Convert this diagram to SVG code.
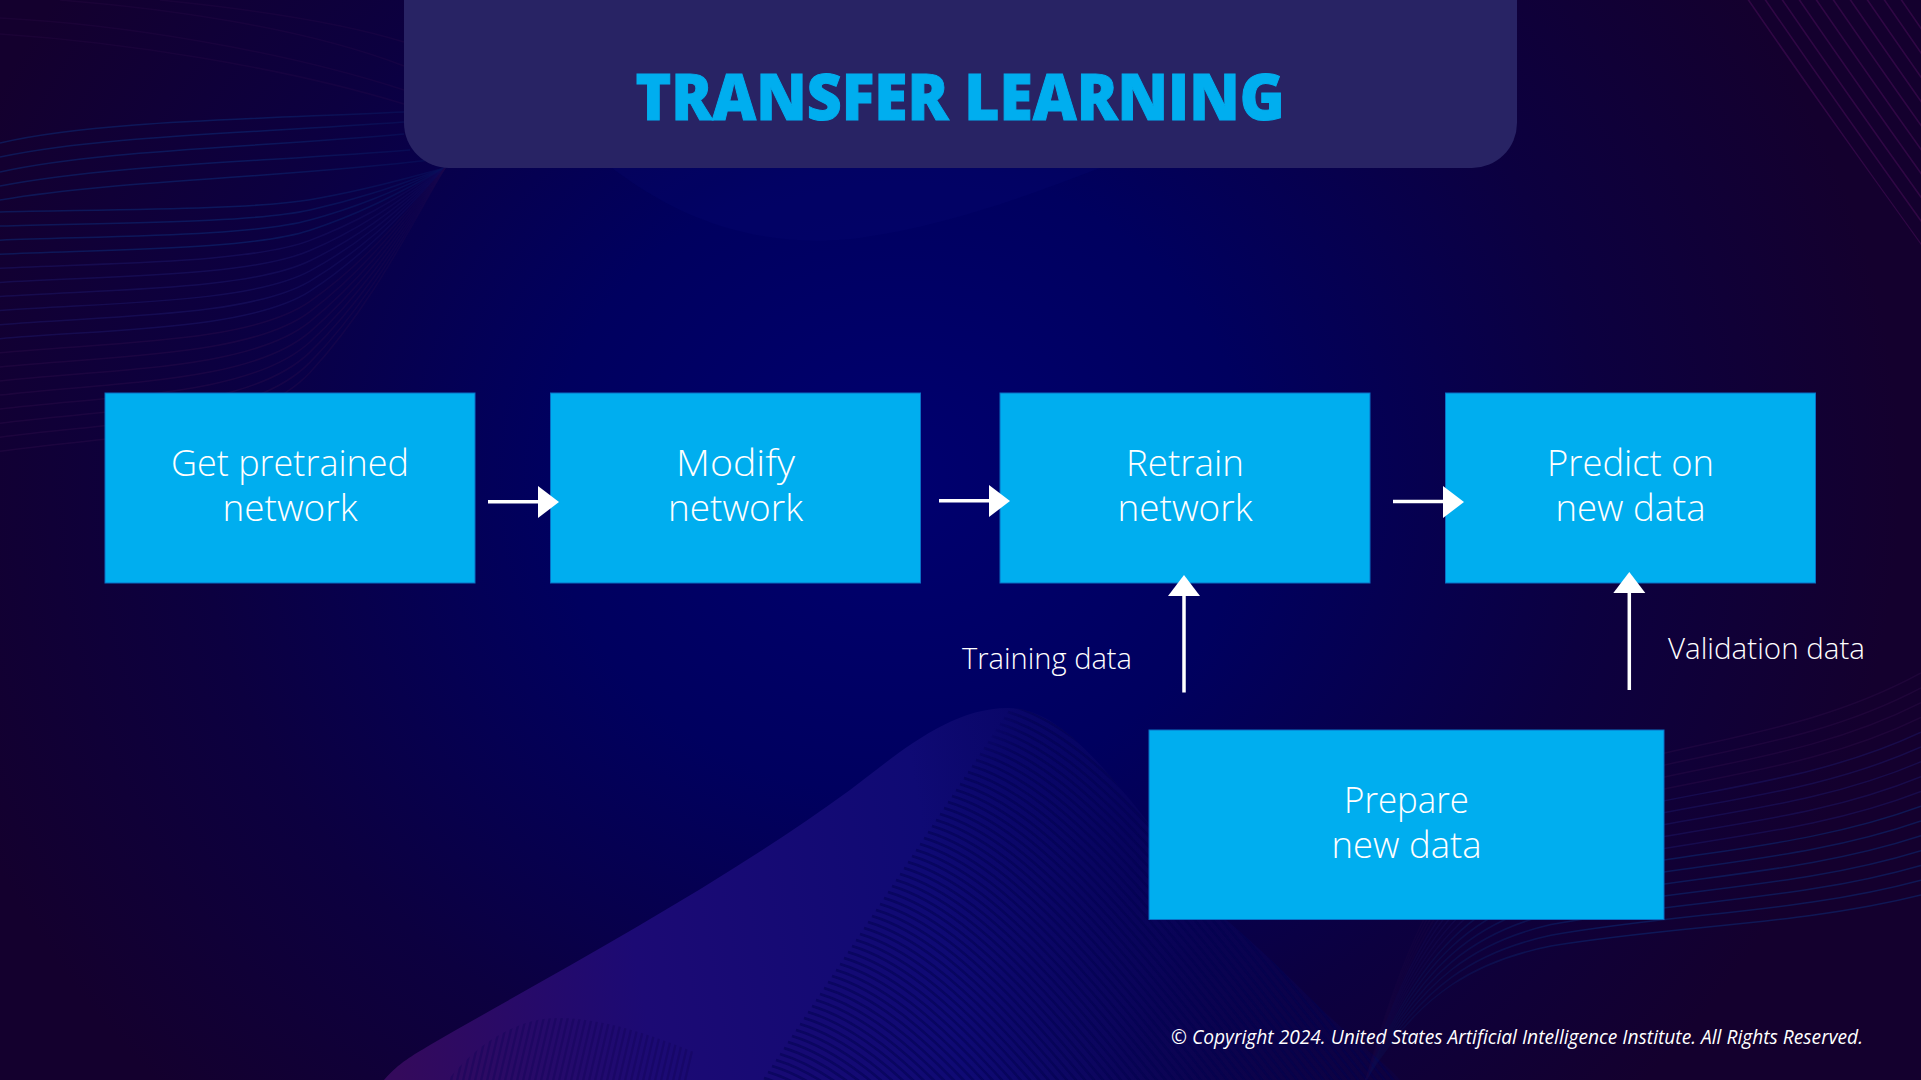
<svg xmlns="http://www.w3.org/2000/svg" width="1921" height="1080" viewBox="0 0 1921 1080">
<style>
.box{fill:#00aeef;stroke:#0a6fc4;stroke-width:1}
.t{font-family:"Open Sans","Noto Sans",sans-serif;font-weight:300;fill:#fff;text-anchor:middle;font-size:37px}
.lbl{font-family:"Open Sans","Noto Sans",sans-serif;font-weight:300;fill:#fff;font-size:30px}
.ln{fill:none;stroke-width:1.5;vector-effect:non-scaling-stroke}
.b{stroke:#0c2f7c;opacity:.5}
.m{stroke:#1f1a6e;opacity:.45}
.p{stroke:#35104f;opacity:.35}
.st{fill:none;stroke:#02024e;stroke-width:2.5;opacity:.5}
.st2{fill:none;stroke:#120458;stroke-width:2.2;opacity:.4}
.st3{fill:none;stroke:#3a0a4c;stroke-width:1.6;opacity:.75}
.wire{stroke:#fff;stroke-width:3.5;fill:none}
.head{fill:#fff}
</style>
<defs>
<radialGradient id="bg" gradientUnits="userSpaceOnUse" cx="900" cy="480" r="1000" gradientTransform="translate(900 480) scale(1 .9) translate(-900 -480)">
<stop offset="0" stop-color="#00006f"/><stop offset=".35" stop-color="#00005f"/><stop offset=".7" stop-color="#0c0040"/><stop offset="1" stop-color="#14002e"/>
</radialGradient>
<linearGradient id="wv" gradientUnits="userSpaceOnUse" x1="400" y1="1080" x2="1400" y2="900">
<stop offset="0" stop-color="#340a5c"/><stop offset=".25" stop-color="#1c0a74"/><stop offset=".55" stop-color="#0f0a74"/><stop offset=".8" stop-color="#0a0660" stop-opacity=".45"/><stop offset="1" stop-color="#0a0660" stop-opacity=".1"/>
</linearGradient>
<linearGradient id="fl" gradientUnits="userSpaceOnUse" x1="250" y1="0" x2="450" y2="0"><stop offset="0" stop-color="#fff"/><stop offset="1" stop-color="#fff" stop-opacity=".35"/></linearGradient>
<linearGradient id="fr" gradientUnits="userSpaceOnUse" x1="1370" y1="0" x2="1600" y2="0"><stop offset="0" stop-color="#fff" stop-opacity=".2"/><stop offset="1" stop-color="#fff"/></linearGradient>
<mask id="ml" maskUnits="userSpaceOnUse" x="0" y="0" width="500" height="520"><rect width="500" height="520" fill="url(#fl)"/></mask>
<mask id="mr" maskUnits="userSpaceOnUse" x="1300" y="600" width="621" height="480"><rect x="1300" y="600" width="621" height="480" fill="url(#fr)"/></mask>
<filter id="blur" x="-10%" y="-10%" width="120%" height="120%"><feGaussianBlur stdDeviation="14"/></filter>
<mask id="me" maskUnits="userSpaceOnUse" x="300" y="650" width="1200" height="430"><rect x="300" y="650" width="1200" height="430" fill="#fff"/><path d="M384 1080C400 1062 412 1056 430 1045C560 970 720 885 850 790C900 752 950 708 1008 708" fill="none" stroke="#000" stroke-width="70" filter="url(#blur)"/></mask>
<clipPath id="wc"><path id="wp" d="M384 1080C400 1062 412 1056 430 1045C560 970 720 885 850 790C900 752 950 708 1008 708C1070 708 1120 790 1225 919C1280 965 1310 1000 1343 1029C1365 1050 1385 1062 1400 1080Z"/></clipPath>
<clipPath id="wc2"><path d="M448 1080C480 1040 520 1018 558 1018C620 1018 690 1050 760 1080Z"/></clipPath>
<clipPath id="wc3"><path d="M1745 0L1921 245V0Z"/></clipPath>
<path id="s" d="M1020 700C1120 730 1230 880 1420 1120"/>
<g id="s5"><use href="#s"/><use href="#s" transform="translate(-4 6)"/><use href="#s" transform="translate(-8 12)"/><use href="#s" transform="translate(-12 18)"/><use href="#s" transform="translate(-16 24)"/></g>
<g id="s25"><use href="#s5"/><use href="#s5" transform="translate(-20 30)"/><use href="#s5" transform="translate(-40 60)"/><use href="#s5" transform="translate(-60 90)"/><use href="#s5" transform="translate(-80 120)"/></g>
<path id="v" d="M470 1000L450 1085"/>
<g id="v5"><use href="#v"/><use href="#v" transform="translate(6 0)"/><use href="#v" transform="translate(12 0)"/><use href="#v" transform="translate(18 0)"/><use href="#v" transform="translate(24 0)"/></g>
<path id="lf" class="ln" d="M0 344C110 334 250 335 310 295C370 255 410 205 445 168"/>
<path id="rf" class="ln" d="M1366 1080C1420 990 1480 960 1551 946C1680 925 1800 925 1921 895"/>
<path id="d" d="M1745 -5C1800 75 1860 160 1925 250"/>
<path id="ar" class="head" d="M0 -16L21 0L0 16Z"/>
</defs>
<rect width="1921" height="1080" fill="url(#bg)"/>
<g id="background-waves">
<path d="M612 168C680 220 760 250 860 238C950 225 1030 195 1100 168Z" fill="#0a0a78" opacity=".22"/>
<use href="#wp" fill="url(#wv)"/>
<g clip-path="url(#wc)"><g mask="url(#me)"><g class="st"><use href="#s25" transform="translate(0 -6)"/><use href="#s25" transform="translate(-100 144)"/><use href="#s25" transform="translate(-200 294)"/></g></g></g>
<g clip-path="url(#wc2)"><g class="st2">
<use href="#v5"/><use href="#v5" transform="translate(30 0)"/><use href="#v5" transform="translate(60 0)"/><use href="#v5" transform="translate(90 0)"/><use href="#v5" transform="translate(120 0)"/><use href="#v5" transform="translate(150 0)"/><use href="#v5" transform="translate(180 0)"/><use href="#v5" transform="translate(210 0)"/>
</g></g>
<g id="top-right-lines" clip-path="url(#wc3)" class="st3">
<use href="#d"/><use href="#d" transform="translate(17 0)"/><use href="#d" transform="translate(34 0)"/><use href="#d" transform="translate(51 0)"/><use href="#d" transform="translate(68 0)"/><use href="#d" transform="translate(85 0)"/><use href="#d" transform="translate(102 0)"/><use href="#d" transform="translate(119 0)"/><use href="#d" transform="translate(136 0)"/><use href="#d" transform="translate(153 0)"/>
</g>
<g id="left-lines" mask="url(#ml)">
<path class="ln b" d="M0 143C90 122 230 120 404 112"/><path class="ln b" d="M0 157C100 136 240 134 404 122"/><path class="ln b" d="M0 172C100 150 250 148 404 134"/><path class="ln b" d="M0 186C110 165 260 162 410 150"/><path class="ln b" d="M0 200C120 180 280 178 430 160"/>
<use href="#lf" class="b" transform="matrix(1 0 0 .25 0 126)"/><use href="#lf" class="b" transform="matrix(1 0 0 .33 0 112.6)"/><use href="#lf" class="b" transform="matrix(1 0 0 .41 0 99.1)"/><use href="#lf" class="b" transform="matrix(1 0 0 .49 0 85.7)"/><use href="#lf" class="m" transform="matrix(1 0 0 .57 0 72.2)"/><use href="#lf" class="m" transform="matrix(1 0 0 .65 0 58.8)"/><use href="#lf" class="m" transform="matrix(1 0 0 .73 0 45.4)"/><use href="#lf" class="m" transform="matrix(1 0 0 .81 0 31.9)"/><use href="#lf" class="m" transform="matrix(1 0 0 .89 0 18.5)"/><use href="#lf" class="m" transform="matrix(1 0 0 .97 0 5)"/><use href="#lf" class="p" transform="matrix(1 0 0 1.05 0 -8.4)"/><use href="#lf" class="p" transform="matrix(1 0 0 1.13 0 -21.8)"/><use href="#lf" class="p" transform="matrix(1 0 0 1.21 0 -35.3)"/><use href="#lf" class="p" transform="matrix(1 0 0 1.29 0 -48.7)"/><use href="#lf" class="p" transform="matrix(1 0 0 1.37 0 -62.2)"/><use href="#lf" class="p" transform="matrix(1 0 0 1.45 0 -75.6)"/><use href="#lf" class="p" transform="matrix(1 0 0 1.53 0 -89)"/><use href="#lf" class="p" transform="matrix(1 0 0 1.61 0 -102.5)"/>
</g>
<g id="top-left-lines" opacity=".65">
<path class="ln p" d="M0 18C120 24 280 50 404 90"/><path class="ln p" d="M0 34C120 42 280 66 404 104"/><path class="ln p" d="M60 0C160 8 300 26 404 66"/><path class="ln p" d="M160 0C240 8 340 22 404 42"/>
</g>
<g id="right-lines" mask="url(#mr)">
<use href="#rf" class="b"/><use href="#rf" class="b" transform="matrix(1 0 0 1.08 0 -86.4)"/><use href="#rf" class="b" transform="matrix(1 0 0 1.16 0 -172.8)"/><use href="#rf" class="b" transform="matrix(1 0 0 1.24 0 -259.2)"/><use href="#rf" class="b" transform="matrix(1 0 0 1.32 0 -345.6)"/><use href="#rf" class="b" transform="matrix(1 0 0 1.4 0 -432)"/><use href="#rf" class="b" transform="matrix(1 0 0 1.48 0 -518.4)"/><use href="#rf" class="m" transform="matrix(1 0 0 1.56 0 -604.8)"/><use href="#rf" class="m" transform="matrix(1 0 0 1.64 0 -691.2)"/><use href="#rf" class="m" transform="matrix(1 0 0 1.72 0 -777.6)"/><use href="#rf" class="m" transform="matrix(1 0 0 1.8 0 -864)"/><use href="#rf" class="m" transform="matrix(1 0 0 1.88 0 -950.4)"/><use href="#rf" class="p" transform="matrix(1 0 0 1.96 0 -1036.8)"/><use href="#rf" class="p" transform="matrix(1 0 0 2.04 0 -1123.2)"/><use href="#rf" class="p" transform="matrix(1 0 0 2.12 0 -1209.6)"/><use href="#rf" class="p" transform="matrix(1 0 0 2.2 0 -1296)"/>
</g>
</g>
<g id="header">
<path d="M404 0H1517V123A45 45 0 0 1 1472 168H449A45 45 0 0 1 404 123Z" fill="#282364"/>
<text x="960" y="119.500" font-family="Open Sans,sans-serif" font-weight="800" font-size="63" fill="#00aeef" stroke="#00aeef" stroke-width="1" text-anchor="middle" textLength="649" lengthAdjust="spacingAndGlyphs">TRANSFER LEARNING</text>
</g>
<g id="get-pretrained"><rect class="box" x="105" y="393" width="370" height="190"/><text class="t"><tspan x="290" y="476" textLength="238" lengthAdjust="spacingAndGlyphs">Get pretrained</tspan><tspan x="290" y="521" textLength="135" lengthAdjust="spacingAndGlyphs">network</tspan></text></g>
<g id="modify"><rect class="box" x="550.500" y="393" width="370" height="190"/><text class="t"><tspan x="735.500" y="476" textLength="119" lengthAdjust="spacingAndGlyphs">Modify</tspan><tspan x="735.500" y="521" textLength="135" lengthAdjust="spacingAndGlyphs">network</tspan></text></g>
<g id="retrain"><rect class="box" x="1000" y="393" width="370" height="190"/><text class="t"><tspan x="1185" y="476" textLength="118" lengthAdjust="spacingAndGlyphs">Retrain</tspan><tspan x="1185" y="521" textLength="135" lengthAdjust="spacingAndGlyphs">network</tspan></text></g>
<g id="predict"><rect class="box" x="1445.500" y="393" width="370" height="190"/><text class="t"><tspan x="1630.500" y="476" textLength="167" lengthAdjust="spacingAndGlyphs">Predict on</tspan><tspan x="1630.500" y="521" textLength="150" lengthAdjust="spacingAndGlyphs">new data</tspan></text></g>
<g id="prepare"><rect class="box" x="1149" y="730" width="515" height="189.500"/><text class="t"><tspan x="1406.500" y="813" textLength="125" lengthAdjust="spacingAndGlyphs">Prepare</tspan><tspan x="1406.500" y="858" textLength="150" lengthAdjust="spacingAndGlyphs">new data</tspan></text></g>
<g id="connectors">
<path class="wire" d="M488 501.700H540M939 500.700H990M1393 501.500H1445M1184 692.500V593M1629.300 690V590"/>
<use href="#ar" transform="translate(538 502)"/><use href="#ar" transform="translate(989 501)"/><use href="#ar" transform="translate(1443 502)"/>
<use href="#ar" transform="translate(1184 596) rotate(-90)"/><use href="#ar" transform="translate(1629.300 593) rotate(-90)"/>
</g>
<text class="lbl" x="962" y="669" textLength="170" lengthAdjust="spacingAndGlyphs">Training data</text>
<text class="lbl" x="1668" y="659" textLength="197" lengthAdjust="spacingAndGlyphs">Validation data</text>
<text id="copyright" x="1171" y="1044" font-family="Open Sans,sans-serif" font-style="italic" font-weight="400" font-size="20" fill="#fff" textLength="692" lengthAdjust="spacingAndGlyphs">© Copyright 2024. United States Artificial Intelligence Institute. All Rights Reserved.</text>
</svg>
